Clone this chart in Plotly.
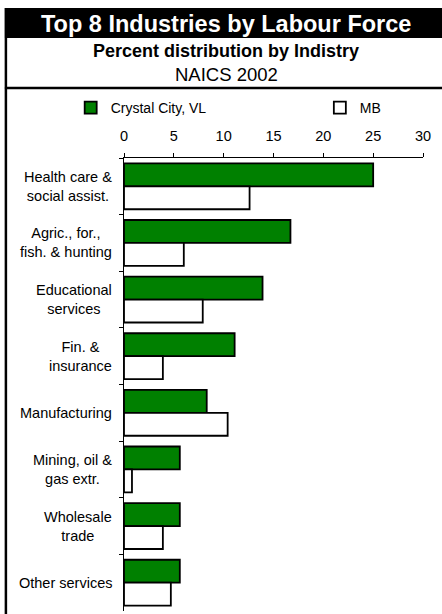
import plotly.graph_objects as go

# ---- data ----
categories = [
    "Health care &<br>social assist.",
    "Agric., for.,<br>fish. & hunting",
    "Educational<br>services",
    "Fin. &<br>insurance",
    "Manufacturing",
    "Mining, oil &<br>gas extr.",
    "Wholesale<br>trade",
    "Other services",
]
crystal_city = [25.0, 16.7, 13.9, 11.1, 8.3, 5.6, 5.6, 5.6]
mb = [12.6, 6.0, 7.9, 3.9, 10.4, 0.8, 3.9, 4.7]
series_names = ["Crystal City, VL", "MB"]
x_ticks = [0, 5, 10, 15, 20, 25, 30]

title_text = "Top 8 Industries by Labour Force"
subtitle_text = "Percent distribution by Indistry"
subtitle2_text = "NAICS 2002"

# ---- layout geometry (pixels) ----
W, H = 442, 614
ML, MR, MT, MB_ = 123.5, 18.5, 158, 3
PW = W - ML - MR
PH = H - MT - MB_
FONT = "Liberation Sans, Arial, sans-serif"


def px_x(px):
    return (px - ML) / PW


def px_y(py):
    return (H - MB_ - py) / PH


fig = go.Figure()
fig.add_trace(go.Bar(
    y=categories, x=crystal_city, name=series_names[0], orientation="h",
    marker=dict(color="#008000", line=dict(color="black", width=1.8)),
    legend="legend",
))
fig.add_trace(go.Bar(
    y=categories, x=mb, name=series_names[1], orientation="h",
    marker=dict(color="white", line=dict(color="black", width=1.8)),
    legend="legend2",
))

shapes = [
    dict(type="rect", xref="paper", yref="paper", x0=px_x(4), x1=px_x(443),
         y0=px_y(38), y1=px_y(8), fillcolor="black", line=dict(width=0), layer="above"),
    dict(type="line", xref="paper", yref="paper", x0=px_x(4), x1=px_x(443),
         y0=px_y(88), y1=px_y(88), line=dict(color="black", width=2.5)),
    dict(type="line", xref="paper", yref="paper", x0=px_x(5), x1=px_x(5),
         y0=px_y(8), y1=px_y(616), line=dict(color="black", width=2.5)),
]

annotations = [
    dict(text="<b>" + title_text + "</b>", xref="paper", yref="paper",
         x=px_x(226), y=px_y(24), showarrow=False, xanchor="center", yanchor="middle",
         font=dict(family=FONT, size=23.5, color="white")),
    dict(text="<b>" + subtitle_text + "</b>", xref="paper", yref="paper",
         x=px_x(225.5), y=px_y(50.5), showarrow=False, xanchor="center", yanchor="middle",
         font=dict(family=FONT, size=18, color="black")),
    dict(text=subtitle2_text, xref="paper", yref="paper",
         x=px_x(226), y=px_y(74.5), showarrow=False, xanchor="center", yanchor="middle",
         font=dict(family=FONT, size=18.5, color="black")),
]
for c in categories:
    annotations.append(dict(
        text=c, xref="paper", yref="y", x=px_x(113), y=c, showarrow=False,
        xanchor="right", yanchor="middle", align="center",
        font=dict(family=FONT, size=14.5, color="black"),
    ))

legend_common = dict(
    orientation="h", yanchor="middle", xanchor="left", itemwidth=30,
    font=dict(family=FONT, size=14, color="black"), bgcolor="rgba(0,0,0,0)",
    borderwidth=0,
)

fig.update_layout(
    width=W, height=H, autosize=False,
    margin=dict(l=ML, r=MR, t=MT, b=MB_, pad=0),
    paper_bgcolor="white", plot_bgcolor="white",
    barmode="group", bargap=0.19, bargroupgap=0,
    font=dict(family=FONT, size=14.5, color="black"),
    showlegend=True,
    legend=dict(x=px_x(70), y=px_y(108), **legend_common),
    legend2=dict(x=px_x(320), y=px_y(108), **legend_common),
    shapes=shapes,
    annotations=annotations,
    xaxis=dict(
        side="top", range=[0, 30], tickvals=x_ticks, ticktext=[str(t) for t in x_ticks],
        showgrid=False, zeroline=False, showline=True, linecolor="black", linewidth=1,
        ticks="outside", ticklen=4, tickcolor="black", tickwidth=1,
        ticklabelstandoff=6, tickfont=dict(family=FONT, size=14.5, color="black"),
        fixedrange=True,
    ),
    yaxis=dict(
        autorange="reversed", showticklabels=False, showgrid=False, zeroline=False,
        showline=True, linecolor="black", linewidth=1,
        ticks="outside", ticklen=4, tickcolor="black", tickwidth=1,
        tickson="boundaries", fixedrange=True,
    ),
)

fig.write_html("out.html", config={"displayModeBar": False},
               post_script="document.body.style.margin='0px';")
